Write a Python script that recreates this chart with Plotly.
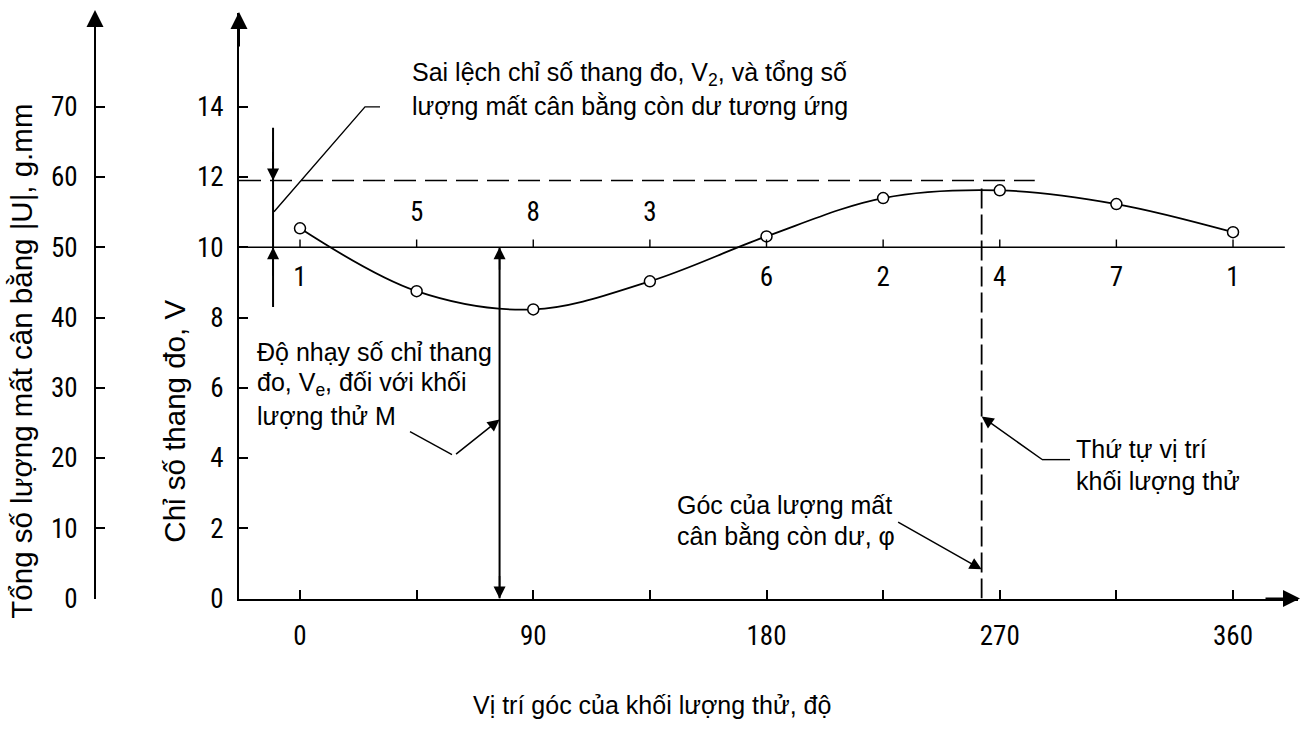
import plotly.graph_objects as go

# ---------------- data ----------------
angles = [0, 45, 90, 135, 180, 225, 270, 315, 360]
readings = [10.54, 8.75, 8.23, 9.03, 10.31, 11.40, 11.62, 11.23, 10.43]
positions = ["1", "5", "8", "3", "6", "2", "4", "7", "1"]

x_major_ticks = [0, 90, 180, 270, 360]
x_ticklabels = ["0", "90", "180", "270", "360"]
x_minor_step = 45
v_ticks = [0, 2, 4, 6, 8, 10, 12, 14]
u_ticks = [0, 10, 20, 30, 40, 50, 60, 70]

v_ref = 10          # reference reading line
v_max = 11.9        # maximum reading (dashed)
v_peak = 11.72      # top of the curve at the residual angle
angle_sens = 77     # sensitivity arrow position
angle_resid = 263   # angle of residual unbalance
u_per_v = 5         # g.mm per scale division

# ---------------- layout helpers ----------------
W, H = 1304, 749
SY = 1.021  # vertical stretch to match the reference proportions


def px(x):
    return x / W


def py(y):
    return 1 - (y * SY) / H


X0 = -23.54
Y0, Y1 = 0, 16.67

NUM_FONT = dict(family="Liberation Sans Narrow, Roboto Condensed, Liberation Sans, Arial, sans-serif",
                size=27, color="black")
TXT = "Liberation Sans, Arial, sans-serif"
TXT_FONT = dict(family=TXT, size=25, color="black")

fig = go.Figure()

# curve
fig.add_trace(go.Scatter(x=angles, y=readings, mode="lines",
                         line=dict(shape="spline", smoothing=1.0, color="black", width=1.8),
                         hoverinfo="skip", showlegend=False))
# points
fig.add_trace(go.Scatter(x=angles, y=readings, mode="markers",
                         marker=dict(symbol="circle", size=11, color="white",
                                     line=dict(color="black", width=1.5)),
                         showlegend=False))
# position numbers
label_y = [v_ref + 0.95 if r < v_ref else v_ref - 0.9 for r in readings]
fig.add_trace(go.Scatter(x=angles, y=label_y, mode="text", text=positions,
                         textfont=NUM_FONT, hoverinfo="skip", showlegend=False))
# dummy trace for the secondary axis
fig.add_trace(go.Scatter(x=[0], y=[0], yaxis="y2", mode="markers",
                         marker=dict(opacity=0), hoverinfo="skip", showlegend=False))

shapes = []
# reference line V = 10
shapes.append(dict(type="line", xref="x", yref="y", x0=X0, x1=380, y0=v_ref, y1=v_ref,
                   line=dict(color="black", width=1.6)))
# small ticks on reference line
for a in angles:
    shapes.append(dict(type="line", xref="x", yref="y", x0=a, x1=a, y0=v_ref, y1=v_ref + 0.22,
                       line=dict(color="black", width=1.4)))
# dashed max line
shapes.append(dict(type="line", xref="x", yref="y", x0=X0, x1=283.5, y0=v_max, y1=v_max,
                   line=dict(color="black", width=1.6, dash="22px,9px")))
# vertical sensitivity line
shapes.append(dict(type="line", xref="x", yref="y", x0=angle_sens, x1=angle_sens, y0=0, y1=v_ref,
                   line=dict(color="black", width=2)))
# vertical dashed residual angle line
shapes.append(dict(type="line", xref="x", yref="y", x0=angle_resid, x1=angle_resid, y0=0, y1=v_peak,
                   line=dict(color="black", width=1.8, dash="20px,6px")))
# left double-arrow line
shapes.append(dict(type="line", xref="x", yref="y", x0=-10.4, x1=-10.4, y0=8.3, y1=13.4,
                   line=dict(color="black", width=2)))
# leader for "Sai lệch"
shapes.append(dict(type="path", xref="paper", yref="paper",
                   path=f"M {px(274)},{py(212)} L {px(365)},{py(107)} L {px(380)},{py(107)}",
                   line=dict(color="black", width=1.4)))
# leader for "Độ nhạy"
shapes.append(dict(type="line", xref="paper", yref="paper",
                   x0=px(410), y0=py(432), x1=px(452), y1=py(455),
                   line=dict(color="black", width=1.4)))
# leader for "Thứ tự"
shapes.append(dict(type="line", xref="paper", yref="paper",
                   x0=px(1042), y0=py(460), x1=px(1070), y1=py(460),
                   line=dict(color="black", width=1.4)))

ann = []


def arrow(x, y, ax, ay, xref="x", yref="y", size=1.6, width=1.5):
    ann.append(dict(x=x, y=y, xref=xref, yref=yref, ax=ax, ay=ay, text="",
                    showarrow=True, arrowhead=2, arrowsize=size, arrowwidth=width,
                    arrowcolor="black"))


# axis arrows
arrow(px(1300), py(599), -36, 0, "paper", "paper", 1.7, 2)
arrow(px(239), py(12), 0, 36, "paper", "paper", 1.7, 2)
arrow(px(95), py(10), 0, 36, "paper", "paper", 1.7, 2)
# left double arrow
arrow(-10.4, v_max, 0, -30)
arrow(-10.4, v_ref, 0, 30)
# sensitivity arrows
arrow(angle_sens, v_ref, 0, 24)
arrow(angle_sens, 0, 0, -24)
# leader arrows
arrow(angle_sens, 5.1, -45, 36)
arrow(angle_resid, 0.83, -85, -48)
arrow(angle_resid, 5.18, 62, 44)


def text(x, y, t, xanchor="left", yanchor="middle", font=TXT_FONT, angle=0, align="left"):
    ann.append(dict(x=px(x), y=py(y), xref="paper", yref="paper", text=t,
                    showarrow=False, xanchor=xanchor, yanchor=yanchor,
                    align=align, font=font, textangle=angle))


def block(x, y_first, lines, step=32):
    for i, line in enumerate(lines):
        text(x, y_first + i * step, line)


block(410, 74, ["Sai lệch chỉ số thang đo, V<sub>2</sub>, và tổng số",
                "lượng mất cân bằng còn dư tương ứng"])
block(255, 352, ["Độ nhạy số chỉ thang",
                 "đo, V<sub>e</sub>, đối với khối",
                 "lượng thử M"])
block(675, 505, ["Góc của lượng mất", "cân bằng còn dư, φ"], step=31)
block(1074, 449, ["Thứ tự vị trí", "khối lượng thử"])

text(652, 706, "Vị trí góc của khối lượng thử, độ", xanchor="center", align="center",
     font=dict(family=TXT, size=25, color="black"))
text(175, 422, "Chỉ số thang đo, V", xanchor="center", align="center",
     font=dict(family=TXT, size=29.5, color="black"), angle=-90)
text(22, 362, "Tổng số lượng mất cân bằng |U|, g.mm", xanchor="center", align="center",
     font=dict(family=TXT, size=29.5, color="black"), angle=-90)

axis_common = dict(showgrid=False, zeroline=False, showline=True, linecolor="black",
                   linewidth=2, ticks="inside", ticklen=9, tickwidth=2, tickcolor="black",
                   tickfont=NUM_FONT)

fig.update_layout(
    width=W, height=H,
    margin=dict(l=0, r=0, t=0, b=0),
    paper_bgcolor="white", plot_bgcolor="white",
    showlegend=False,
    xaxis=dict(axis_common, domain=[px(239), px(1298)], range=[X0, X0 + (1298 - 239) / 2.5917],
               tickmode="array", tickvals=x_major_ticks, ticktext=x_ticklabels,
               minor=dict(tick0=0, dtick=x_minor_step, ticks="inside", ticklen=9,
                          tickwidth=2, tickcolor="black", showgrid=False),
               ticklabelstandoff=12, anchor="y"),
    yaxis=dict(axis_common, domain=[py(599), py(13)], range=[Y0, Y1],
               tickmode="array", tickvals=v_ticks, ticklabelstandoff=8, anchor="x"),
    yaxis2=dict(axis_common, domain=[py(599), py(13)], range=[Y0 * u_per_v, Y1 * u_per_v],
                tickmode="array", tickvals=u_ticks, overlaying="y", anchor="free",
                position=px(95), side="left", ticklabelstandoff=11),
    shapes=shapes,
    annotations=ann,
)

fig.write_html("out.html", config={"displayModeBar": False},
               post_script="document.body.style.margin='0';document.body.style.overflow='hidden';")
